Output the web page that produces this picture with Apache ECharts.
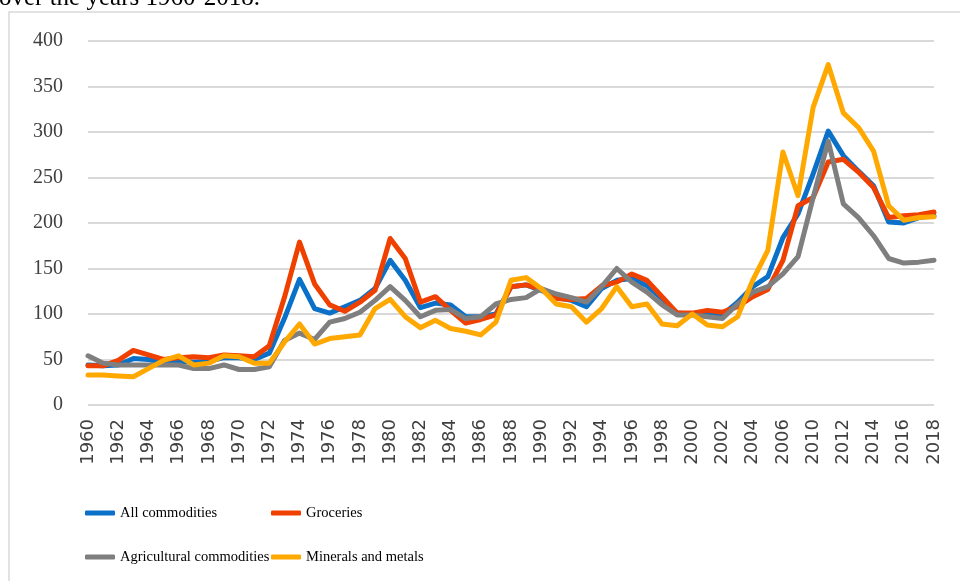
<!DOCTYPE html>
<html>
<head>
<meta charset="utf-8">
<script src="https://cdn.jsdelivr.net/npm/echarts@6/dist/echarts.min.js"></script>
<style>html,body{margin:0;padding:0;background:#fff}#c{width:960px;height:581px}</style>
</head>
<body>
<div id="c"></div>
<script>
const years = [];
for (let y = 1960; y <= 2006; y++) years.push(String(y));
for (let y = 2009; y <= 2018; y++) years.push(String(y));

const allCommodities = [44,43,44,51,50,47,48,47,48,52,52,50,57,95,138,106,101,108,115,128,159,137,107,112,110,97,97,100,130,132,126,118,115,108,128,137,139,131,117,101,100,100,99,113,130,141,184,210,254,301,274,257,241,201,200,206,208];
const groceries = [43,43,49,60,55,50,52,53,52,55,54,53,65,118,179,133,110,103,113,126,183,161,113,119,104,90,94,99,130,132,127,117,116,117,131,135,144,137,119,101,101,104,102,108,119,127,159,219,228,267,270,256,239,206,208,209,212];
const agricultural = [54,46,44,44,44,44,44,40,40,44,39,39,42,71,79,72,91,95,102,115,130,115,97,104,105,95,97,111,116,118,128,122,118,113,130,150,135,124,110,99,99,97,95,111,124,130,144,163,228,290,221,206,186,161,156,157,159];
const minerals = [33,33,32,31,40,49,54,44,46,54,53,46,46,69,89,67,73,75,77,106,116,97,85,93,84,81,77,91,137,140,128,111,108,91,106,130,108,111,89,87,100,88,86,97,137,170,278,230,327,374,321,305,279,219,203,206,207];

const seriesNames = ['All commodities','Groceries','Agricultural commodities','Minerals and metals'];
const seriesColors = ['#0A70C8','#F04000','#7F7F7F','#FFA800'];
const seriesData = [allCommodities, groceries, agricultural, minerals];

const chart = echarts.init(document.getElementById('c'));
const legendCommon = {
  orient: 'vertical', top: 503, padding: 0, itemGap: 24,
  itemWidth: 30, itemHeight: 5, icon: 'roundRect',
  textStyle: { fontFamily: 'Liberation Serif', fontSize: 14.5, color: '#000', lineHeight: 20 }
};
chart.setOption({
  animation: false,
  graphic: [
    { type: 'rect', z: -1, shape: { x: 9, y: 12, width: 970, height: 600 },
      style: { fill: 'none', stroke: '#d9d9d9', lineWidth: 1.5 } },
    { type: 'text', left: -1, top: -14,
      style: { text: 'over the years 1960-2018.', font: '25px "Liberation Serif"', fill: '#000' } }
  ],
  legend: [
    Object.assign({ left: 85, data: [seriesNames[0], seriesNames[2]] }, legendCommon),
    Object.assign({ left: 271, data: [seriesNames[1], seriesNames[3]] }, legendCommon)
  ],
  grid: { left: 88, right: 26, top: 41, bottom: 176, containLabel: false },
  xAxis: {
    type: 'category', data: years, boundaryGap: false,
    axisLine: { show: false }, axisTick: { show: false },
    axisLabel: { rotate: 90, interval: 1, margin: 14, fontFamily: 'DejaVu Sans', fontSize: 18, color: '#404040' },
    splitLine: { show: false }
  },
  yAxis: {
    type: 'value', min: 0, max: 400, interval: 50,
    axisLine: { show: false }, axisTick: { show: false },
    axisLabel: { margin: 25, fontFamily: 'Liberation Serif', fontSize: 20, color: '#404040' },
    splitLine: { lineStyle: { color: '#d9d9d9', width: 2 } }
  },
  series: seriesNames.map((n, i) => ({
    name: n, type: 'line', data: seriesData[i], symbol: 'none', smooth: false,
    color: seriesColors[i],
    lineStyle: { width: 5, color: seriesColors[i], cap: 'round', join: 'round' }
  }))
});
</script>
</body>
</html>
